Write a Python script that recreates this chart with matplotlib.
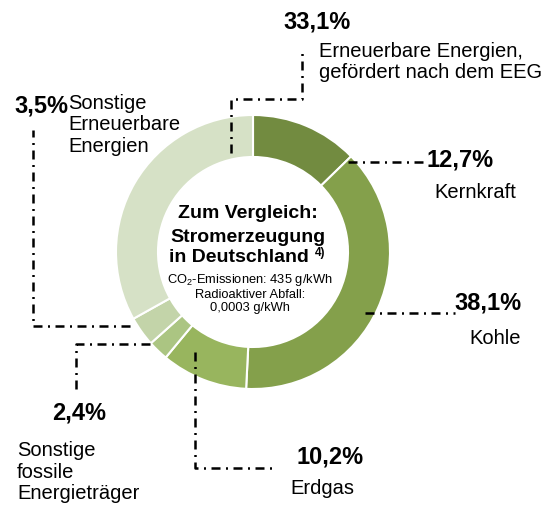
import matplotlib as mpl
import matplotlib.pyplot as plt

# Stromerzeugung in Deutschland, Anteile in Prozent (im Uhrzeigersinn ab 12 Uhr)
sources = ('Kernkraft', 'Kohle', 'Erdgas', 'Sonstige fossile Energieträger',
           'Sonstige Erneuerbare Energien', 'Erneuerbare Energien (EEG)')
shares = (12.7, 38.1, 10.2, 2.4, 3.5, 33.1)
share_labels = ('12,7%', '38,1%', '10,2%', '2,4%', '3,5%', '33,1%')
names = ('Kernkraft', 'Kohle', 'Erdgas', 'Sonstige\nfossile\nEnergieträger',
         'Sonstige\nErneuerbare\nEnergien', 'Erneuerbare Energien,\ngefördert nach dem EEG')
colors = ('#728b40', '#84a04b', '#98b55e', '#abc582', '#c3d4a9', '#d6e1c6')

W, H = 547, 505


def p(x, y):
    # Pixelkoordinaten (y von oben) -> Datenkoordinaten
    return x, H - y


mpl.rcParams.update({
    'font.family': ['Liberation Sans', 'DejaVu Sans'],
    'mathtext.fontset': 'custom',
    'mathtext.rm': 'Liberation Sans',
})

dpi = 100
fig = plt.figure(dpi=dpi, figsize=(W / dpi, H / dpi))
ax = fig.add_axes([0, 0, 1, 1])

ax.pie(
    shares,
    colors=colors,
    startangle=90,
    counterclock=False,
    center=p(253, 252),
    radius=137,
    wedgeprops=dict(width=42, edgecolor='white', linewidth=1.5),
)
ax.set_xlim(0, W)
ax.set_ylim(0, H)
ax.set_aspect('equal')
ax.axis('off')

# Führungslinien
leader = dict(color='black', linewidth=1.8, linestyle=(0, (3.6, 2.2, 0.8, 2.2)))
paths = [
    [(348, 162), (427, 162)],
    [(365, 313), (455, 313)],
    [(195, 352), (195, 468), (273, 468)],
    [(150, 344), (76, 344), (76, 391)],
    [(130, 326), (33, 326), (33, 130)],
    [(231, 153), (231, 99), (302, 99), (302, 48)],
]
for path in paths:
    xs = [p(*pt)[0] for pt in path]
    ys = [p(*pt)[1] for pt in path]
    ax.plot(xs, ys, **leader)

# Beschriftungen: Prozentwert und Name
pct_pos = [(427, 160), (454, 303), (296, 457), (52, 413), (14, 106), (283, 22)]
name_pos = [(434, 192), (469, 339), (290, 488), (17, 472), (68, 125), (319, 62)]
for lab, pos in zip(share_labels, pct_pos):
    ax.text(*p(*pos), lab, fontsize=17, fontweight='bold', ha='left', va='center')
for nm, pos in zip(names, name_pos):
    ax.text(*p(*pos), nm, fontsize=14.5, ha='left', va='center', linespacing=1.15)

# Text in der Mitte
bold = dict(fontsize=14, fontweight='bold', va='center')
ax.text(*p(248, 213), 'Zum Vergleich:', ha='center', **bold)
ax.text(*p(248, 237), 'Stromerzeugung', ha='center', **bold)
t = ax.text(*p(239, 258), 'in Deutschland', ha='center', **bold)
ax.text(*p(250, 293),
        'CO$_\\mathregular{2}$-Emissionen: 435 g/kWh\nRadioaktiver Abfall:\n0,0003 g/kWh',
        fontsize=9.3, ha='center', va='center', linespacing=1.15)

# Fußnote direkt hinter "in Deutschland"
fig.canvas.draw()
bb = t.get_window_extent()
ax.text(bb.x1 + 6, p(0, 253)[1], '4)', fontsize=8.5, fontweight='bold',
        ha='left', va='center')

fig.savefig('out.png', dpi=dpi)
